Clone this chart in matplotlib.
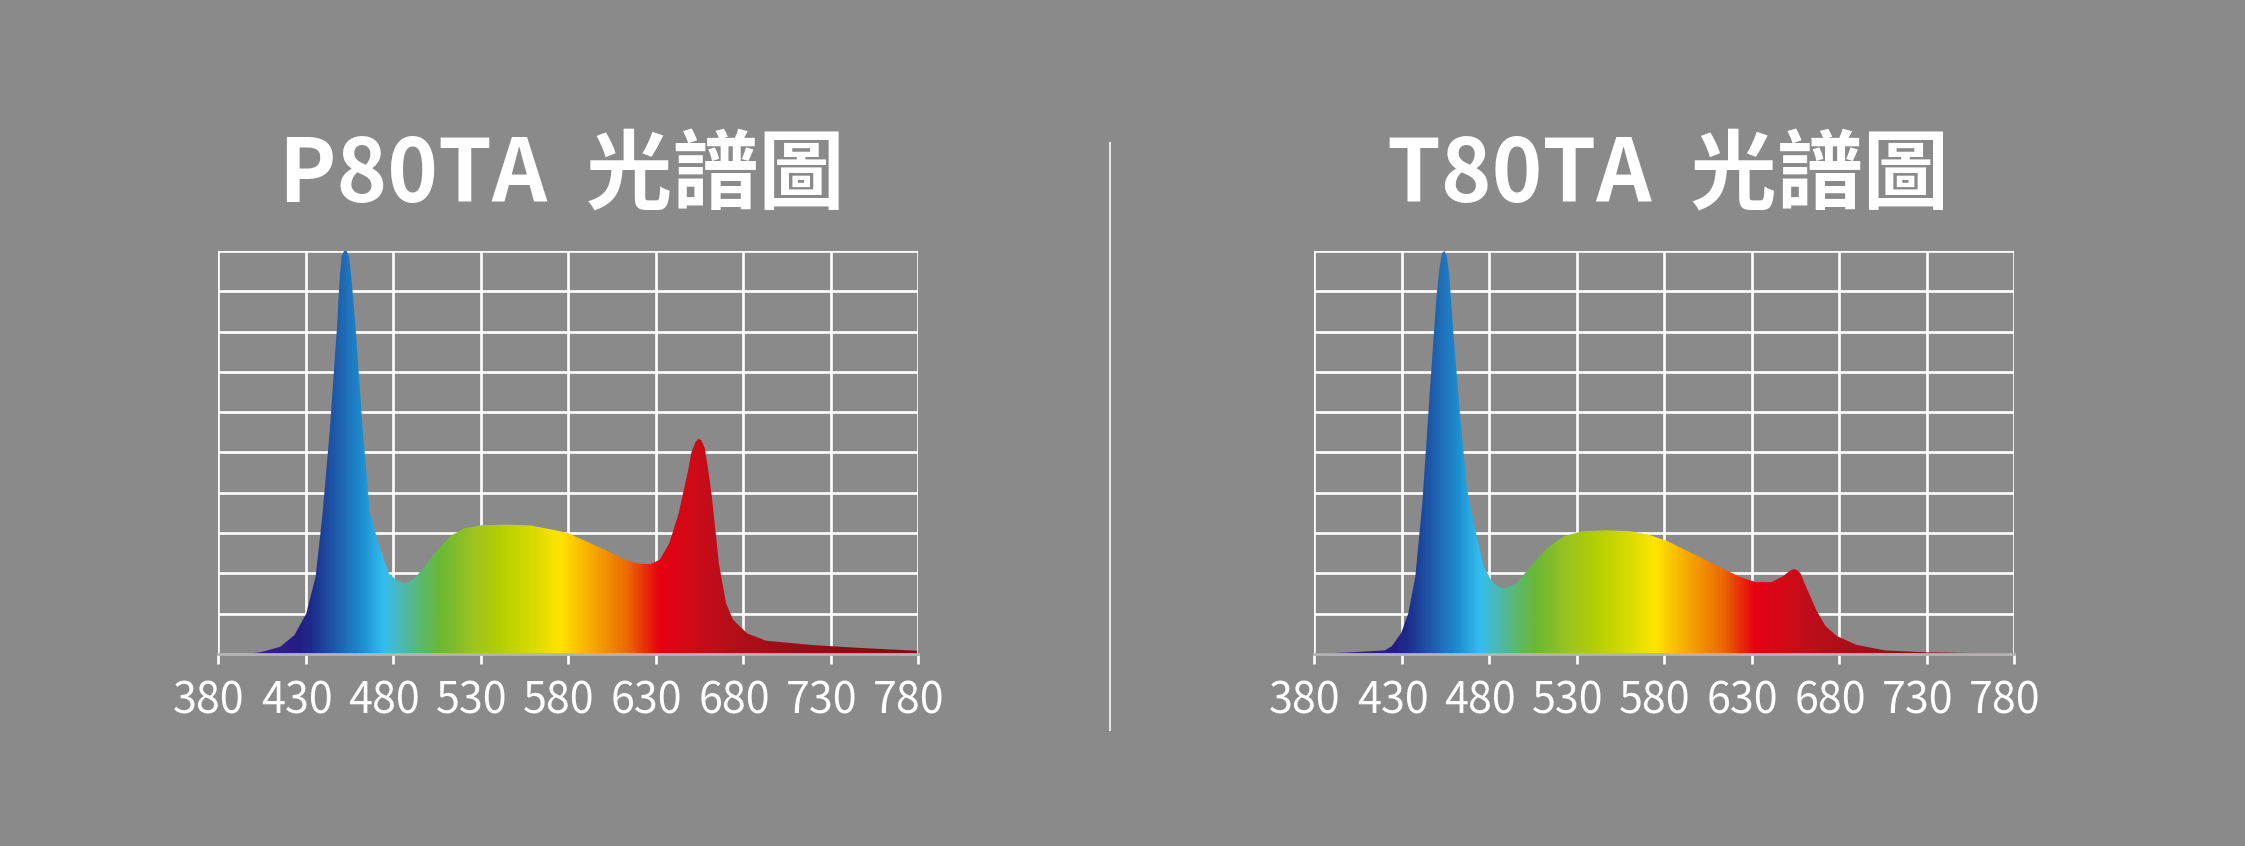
import numpy as np
import matplotlib
matplotlib.use("Agg")
import matplotlib.pyplot as plt
from matplotlib.colors import LinearSegmentedColormap
import matplotlib.transforms as mtransforms

plt.rcParams['font.family'] = ['Noto Sans CJK TC', 'DejaVu Sans']

# ---------------- data ----------------
titles = ["P80TA  光譜圖", "T80TA  光譜圖"]
tick_wl = [380, 430, 480, 530, 580, 630, 680, 730, 780]

p80_wl = [396.7, 405, 415.6, 423.7, 430.4, 435.8, 439.8, 443.9, 447.9, 449.5, 450.6, 452.0,
          453.5, 455.0, 456.5, 458.7, 462.7, 466.8, 472.2, 477.6, 483.0, 487.3, 492.4, 496.4,
          504.5, 512.6, 520.7, 531.5, 545.0, 558.4, 571.9, 580.0, 590.8, 601.5, 612.3, 620.4,
          627.1, 632.5, 637.9, 643.3, 648.7, 650.5, 652.7, 654.5, 656.3, 658.2, 660.0, 662.2,
          666.2, 670.3, 674.3, 682.4, 693.2, 720.2, 747.2, 779.5]
p80_val = [0.0, 0.05, 0.18, 0.47, 1.0, 1.92, 3.5, 5.57, 8.05, 9.3, 9.85, 10.0,
           10.0, 9.85, 9.2, 8.05, 5.57, 3.5, 2.67, 2.0, 1.8, 1.76, 1.88, 2.09,
           2.54, 2.92, 3.12, 3.2, 3.21, 3.19, 3.08, 3.0, 2.79, 2.58, 2.34, 2.24,
           2.23, 2.34, 2.75, 3.5, 4.57, 5.0, 5.25, 5.34, 5.3, 5.1, 4.6, 3.91,
           2.25, 1.26, 0.85, 0.51, 0.33, 0.22, 0.15, 0.08]

t80_wl = [380.0, 400.0, 420.4, 424.4, 429.8, 433.9, 437.9, 441.9, 446.0, 450.0, 451.8, 453.2,
          454.6, 456.0, 457.3, 459.5, 463.5, 467.5, 472.9, 477.0, 481.0, 485.0, 489.1, 495.8,
          503.9, 513.3, 522.7, 533.6, 547.0, 560.5, 571.3, 582.0, 595.5, 609.0, 622.4, 631.9,
          641.3, 648.0, 652.1, 654.2, 656.3, 658.0, 661.5, 666.9, 672.3, 679.0, 689.8, 706.0,
          730.2, 780.0]
t80_val = [0.0, 0.04, 0.09, 0.19, 0.52, 1.01, 1.92, 3.74, 6.39, 8.88, 9.6, 9.95,
           10.0, 9.85, 9.4, 8.05, 5.9, 4.08, 2.92, 2.18, 1.85, 1.68, 1.62, 1.76,
           2.18, 2.63, 2.92, 3.05, 3.07, 3.05, 2.96, 2.8, 2.51, 2.22, 1.93, 1.79,
           1.78, 1.93, 2.07, 2.11, 2.08, 2.0, 1.64, 1.1, 0.69, 0.44, 0.23, 0.09,
           0.04, 0.01]

# spectral colour stops (wavelength, colour)
spec_wl = [380, 400, 425, 432, 451, 462, 474, 485, 496, 507, 526, 541, 560, 575,
           594, 613, 632, 651, 670, 708, 780]
spec_col = ["#6a3a9a", "#3c1f8c", "#241c85", "#1d2a8a", "#1f6ab5", "#1c8fd0", "#33bef0",
            "#4db8b0", "#5cb86a", "#6cb834", "#9ec41e", "#b4cf00", "#d8db00", "#ffe500",
            "#f5a800", "#ec6c00", "#e60012", "#d00a18", "#b80f1a", "#9a0d18", "#800a10"]

series = [(p80_wl, p80_val), (t80_wl, t80_val)]

# ---------------- figure ----------------
W, H, DPI = 2245, 846, 100
BG = "#8a8a8a"
fig = plt.figure(figsize=(W / DPI, H / DPI), dpi=DPI, facecolor=BG)

pos = [(218, 251, 700, 403), (1314, 251, 700, 403)]
title_x = [562, 1668]
cmap = LinearSegmentedColormap.from_list(
    "spec", [((w - 380) / 400, c) for w, c in zip(spec_wl, spec_col)])

for i, ((x0, y0, w, h), (wl, val)) in enumerate(zip(pos, series)):
    ax = fig.add_axes([x0 / W, (H - y0 - h) / H, w / W, h / H])
    ax.set_facecolor(BG)
    ax.set_xlim(380, 780)
    ax.set_ylim(0, 10)
    for s in ax.spines.values():
        s.set_visible(False)
    # grid
    for yy in range(1, 11):
        ax.axhline(yy, color="white", lw=1.9, zorder=1)
    for xx in tick_wl:
        ax.axvline(xx, color="white", lw=1.9, zorder=1)
    # gradient fill clipped to spectrum
    poly = ax.fill_between(wl, val, 0, color="none", lw=0, zorder=2)
    grad = np.linspace(0, 1, 800).reshape(1, -1)
    im = ax.imshow(grad, cmap=cmap, extent=[380, 780, 0, 10], aspect="auto",
                   origin="lower", zorder=3, interpolation="bilinear")
    im.set_clip_path(poly.get_paths()[0], transform=ax.transData)
    # bottom axis line
    ax.axhline(0, color="#b4b4b4", lw=2.0, zorder=4, clip_on=False)
    # ticks
    ax.set_yticks([])
    ax.set_xticks(tick_wl)
    ax.set_xticklabels([str(t) for t in tick_wl])
    ax.tick_params(axis="x", direction="out", length=7, width=1.9, color="white",
                   pad=11, labelsize=31, labelcolor="white")
    off = mtransforms.ScaledTranslation(-9 / DPI, 0, fig.dpi_scale_trans)
    for lab in ax.get_xticklabels():
        lab.set_transform(lab.get_transform() + off)
    # title
    fig.text(title_x[i] / W, (H - 176) / H, titles[i], color="white", fontsize=62,
             fontweight="bold", ha="center", va="center")

# divider
fig.add_artist(plt.Line2D([1110 / W, 1110 / W], [(H - 143) / H, (H - 730) / H],
                          color="#e6e6e6", lw=1.5))

fig.savefig("out.png", dpi=DPI, facecolor=BG)
